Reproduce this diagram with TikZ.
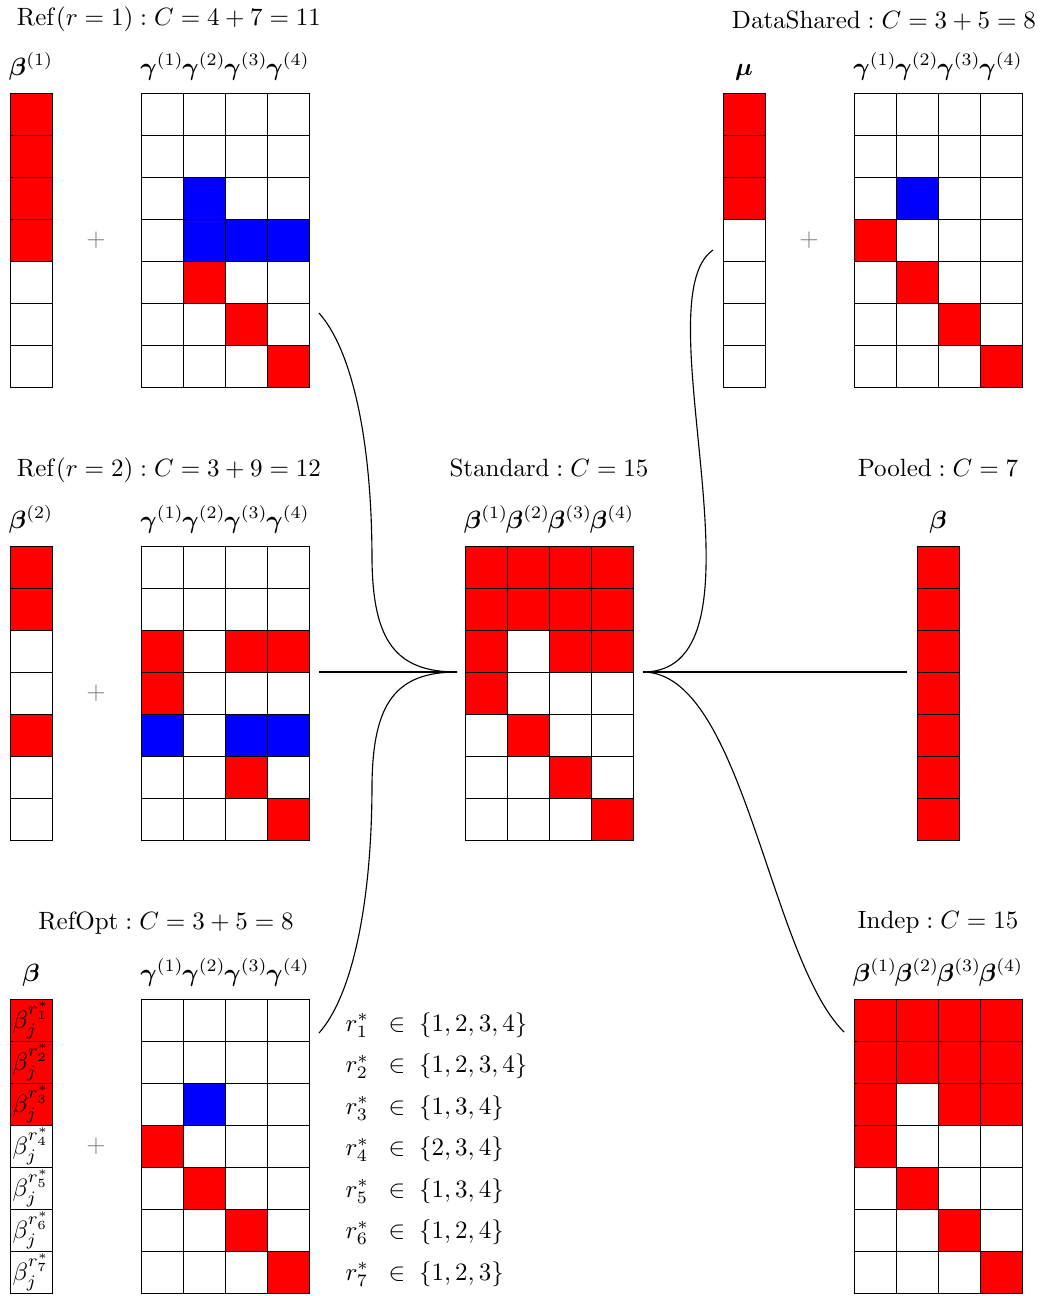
\documentclass[tikz,border=0pt]{standalone}
\usepackage{amsmath,bm}
\newcommand{\paintcells}[4]{\foreach \ci/\ri in {#4} {\fill[#3] ({#1+(\ci-1)*42},{#2+(\ri-1)*42}) rectangle ++(42,42);}}
\newcommand{\cellgrid}[4]{\foreach \ci in {1,...,#3} {\foreach \ri in {1,...,#4} {\draw[cellline] ({#1+(\ci-1)*42},{#2+(\ri-1)*42}) rectangle ++(42,42);}}}
\tikzset{
  cellline/.style={draw=black, line width=0.4pt},
  conn/.style={draw=black, line width=0.45pt},
  boxone/.style={inner sep=0, outer sep=0, minimum width=16.8pt, minimum height=117.6pt},
  boxfour/.style={inner sep=0, outer sep=0, minimum width=67.2pt, minimum height=117.6pt},
  ttl/.style={anchor=base, inner sep=0},
  lbl/.style={anchor=base, inner sep=0},
  plussign/.style={text=gray, inner sep=0},
}
\begin{document}
\begin{tikzpicture}[x=0.4pt,y=-0.4pt]
\useasboundingbox (0,0) rectangle (1045,1296);
% ---------- fills ----------
% Ref r=1
\paintcells{10}{93}{red}{1/1,1/2,1/3,1/4}
\paintcells{141}{93}{blue}{2/3,2/4,3/4,4/4}
\paintcells{141}{93}{red}{2/5,3/6,4/7}
% DataShared
\paintcells{723}{93}{red}{1/1,1/2,1/3}
\paintcells{854}{93}{blue}{2/3}
\paintcells{854}{93}{red}{1/4,2/5,3/6,4/7}
% Ref r=2
\paintcells{10}{546}{red}{1/1,1/2,1/5}
\paintcells{141}{546}{red}{1/3,3/3,4/3,1/4,3/6,4/7}
\paintcells{141}{546}{blue}{1/5,3/5,4/5}
% Standard
\paintcells{465}{546}{red}{1/1,2/1,3/1,4/1,1/2,2/2,3/2,4/2,1/3,3/3,4/3,1/4,2/5,3/6,4/7}
% Pooled
\paintcells{917}{546}{red}{1/1,1/2,1/3,1/4,1/5,1/6,1/7}
% RefOpt
\paintcells{10}{999}{red}{1/1,1/2,1/3}
\paintcells{141}{999}{blue}{2/3}
\paintcells{141}{999}{red}{1/4,2/5,3/6,4/7}
% Indep
\paintcells{854}{999}{red}{1/1,2/1,3/1,4/1,1/2,2/2,3/2,4/2,1/3,3/3,4/3,1/4,2/5,3/6,4/7}
% ---------- grid lines ----------
\cellgrid{10}{93}{1}{7}
\cellgrid{141}{93}{4}{7}
\cellgrid{723}{93}{1}{7}
\cellgrid{854}{93}{4}{7}
\cellgrid{10}{546}{1}{7}
\cellgrid{141}{546}{4}{7}
\cellgrid{465}{546}{4}{7}
\cellgrid{917}{546}{1}{7}
\cellgrid{10}{999}{1}{7}
\cellgrid{141}{999}{4}{7}
\cellgrid{854}{999}{4}{7}
% ---------- grid nodes ----------
\node[boxone] (r1b) at (31,240) {};
\node[boxfour] (r1g) at (225,240) {};
\node[boxone] (dsm) at (744,240) {};
\node[boxfour] (dsg) at (938,240) {};
\node[boxone] (r2b) at (31,693) {};
\node[boxfour] (r2g) at (225,693) {};
\node[boxfour] (std) at (549,693) {};
\node[boxone] (pool) at (938,693) {};
\node[boxone] (rob) at (31,1146) {};
\node[boxfour] (rog) at (225,1146) {};
\node[boxfour] (ind) at (938,1146) {};
% ---------- titles ----------
\node[ttl] (t1) at (169,25) {$\mathrm{Ref}(r=1) : C = 4+7 = 11$};
\node[ttl] (t2) at (884,28) {$\mathrm{DataShared} : C = 3+5 = 8$};
\node[ttl] (t3) at (169,476) {$\mathrm{Ref}(r=2) : C = 3+9 = 12$};
\node[ttl] (t4) at (549,476) {$\mathrm{Standard} : C = 15$};
\node[ttl] (t5) at (938,476) {$\mathrm{Pooled} : C = 7$};
\node[ttl] (t6) at (166,929) {$\mathrm{RefOpt} : C = 3+5 = 8$};
\node[ttl] (t7) at (938,928) {$\mathrm{Indep} : C = 15$};
% ---------- column labels ----------
\node[lbl] (l1) at (31,75) {$\bm{\beta}^{(1)}$};
\node[lbl] (l2) at (744,75) {$\bm{\mu}$};
\node[lbl] (l3) at (31,528) {$\bm{\beta}^{(2)}$};
\node[lbl] (l4) at (938,528) {$\bm{\beta}$};
\node[lbl] (l5) at (31,981) {$\bm{\beta}$};
\foreach \k in {1,...,4} {
  \node[lbl] (g1\k) at ({162+(\k-1)*42},75) {$\bm{\gamma}^{(\k)}$};
  \node[lbl] (g2\k) at ({875+(\k-1)*42},75) {$\bm{\gamma}^{(\k)}$};
  \node[lbl] (g3\k) at ({162+(\k-1)*42},528) {$\bm{\gamma}^{(\k)}$};
  \node[lbl] (b4\k) at ({486+(\k-1)*42},528) {$\bm{\beta}^{(\k)}$};
  \node[lbl] (g5\k) at ({162+(\k-1)*42},981) {$\bm{\gamma}^{(\k)}$};
  \node[lbl] (b6\k) at ({875+(\k-1)*42},981) {$\bm{\beta}^{(\k)}$};
}
% ---------- plus signs ----------
\node[plussign] (p1) at (96,240) {$+$};
\node[plussign] (p2) at (809,240) {$+$};
\node[plussign] (p3) at (96,693) {$+$};
\node[plussign] (p4) at (96,1146) {$+$};
% ---------- RefOpt cell texts ----------
\foreach \k in {1,...,7} {
  \node[inner sep=0] (rc\k) at (31,{1020+(\k-1)*42}) {$\beta_j^{r_{\k}^*}$};
}
\foreach \k/\s in {1/{1,2,3,4},2/{1,2,3,4},3/{1,3,4},4/{2,3,4},5/{1,3,4},6/{1,2,4},7/{1,2,3}} {
  \node[anchor=base west, inner sep=0] (rs\k) at (345,{1031+(\k-1)*41.5}) {$r_{\k}^*$};
  \node[anchor=base west, inner sep=0] (rm\k) at (388,{1031+(\k-1)*41.5}) {$\in\;\{\s\}$};
}
% ---------- connectors ----------
\coordinate (jL) at ([shift={(-8,-21)}]std.west);
\coordinate (jR) at ([shift={(10,-21)}]std.east);
\draw[conn] (jL) .. controls +(-62,0) and +(1,80) .. ++(-85,-112)
   .. controls +(0,-120) and +(33,37) .. ([shift={(10,73)}]r1g.east);
\draw[conn] (jL) -- ([shift={(10,-21)}]r2g.east);
\draw[conn] (jL) .. controls +(-62,0) and +(1,-80) .. ++(-85,112)
   .. controls +(0,120) and +(33,-37) .. ([shift={(10,-113)}]rog.east);
\draw[conn] (jR) .. controls +(137,0) and +(-73,50) .. ([shift={(-10,10)}]dsm.west);
\draw[conn] (jR) -- ([shift={(-10,-21)}]pool.west);
\draw[conn] (jR) .. controls +(100,0) and +(-75,-75) .. ([shift={(-10,-114)}]ind.west);
\end{tikzpicture}
\end{document}
